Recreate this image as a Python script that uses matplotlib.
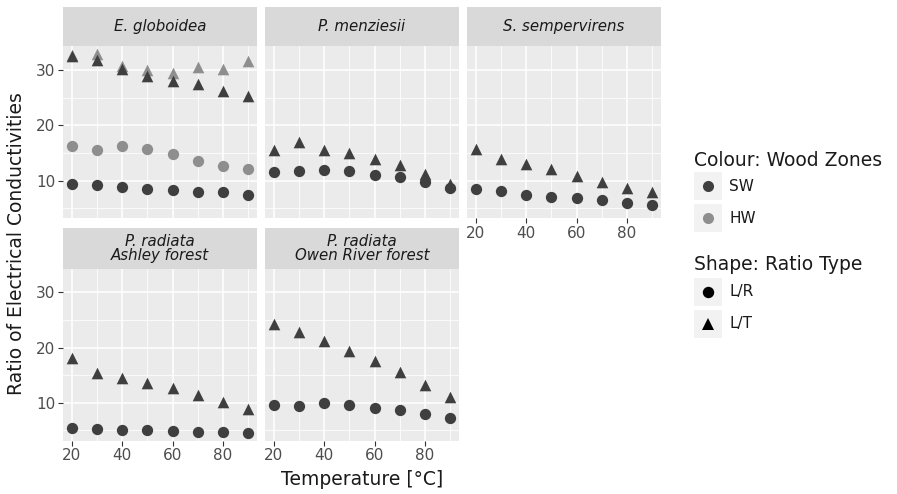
import matplotlib
matplotlib.use("Agg")
import matplotlib.pyplot as plt
from matplotlib.lines import Line2D
import numpy as np

plt.rcParams['font.family'] = ['DejaVu Sans']

temps = [20, 30, 40, 50, 60, 70, 80, 90]

species = ["E. globoidea", "P. menziesii", "S. sempervirens",
           "P. radiata\nAshley forest", "P. radiata\nOwen River forest"]

# E. globoidea
eg_sw_lr = [9.5, 9.2, 8.8, 8.5, 8.3, 8.0, 7.9, 7.5]
eg_hw_lr = [16.3, 15.6, 16.3, 15.7, 14.8, 13.5, 12.7, 12.2]
eg_sw_lt = [32.5, 31.7, 30.1, 28.9, 28.0, 27.4, 26.2, 25.2]
eg_hw_lt = [32.6, 32.8, 30.7, 30.0, 29.5, 30.5, 30.2, 31.6]
# P. menziesii
pm_sw_lr = [11.5, 11.7, 11.9, 11.7, 11.1, 10.6, 9.8, 8.7]
pm_sw_lt = [15.5, 17.0, 15.6, 15.0, 14.0, 12.9, 11.2, 9.4]
# S. sempervirens
ss_sw_lr = [8.6, 8.1, 7.5, 7.0, 6.8, 6.5, 5.9, 5.6]
ss_sw_lt = [15.8, 13.9, 13.1, 12.1, 10.9, 9.8, 8.7, 8.0]
# P. radiata Ashley forest
pa_sw_lr = [5.4, 5.2, 5.1, 5.0, 4.9, 4.8, 4.8, 4.6]
pa_sw_lt = [18.1, 15.4, 14.5, 13.5, 12.7, 11.5, 10.1, 8.9]
# P. radiata Owen River forest
po_sw_lr = [9.7, 9.5, 9.9, 9.6, 9.1, 8.7, 8.0, 7.2]
po_sw_lt = [24.2, 22.8, 21.2, 19.4, 17.6, 15.5, 13.3, 11.1]

zones = ["SW", "HW"]
ratio_types = ["L/R", "L/T"]

panel_series = [
    [("HW", "L/R", eg_hw_lr), ("HW", "L/T", eg_hw_lt),
     ("SW", "L/R", eg_sw_lr), ("SW", "L/T", eg_sw_lt)],
    [("SW", "L/R", pm_sw_lr), ("SW", "L/T", pm_sw_lt)],
    [("SW", "L/R", ss_sw_lr), ("SW", "L/T", ss_sw_lt)],
    [("SW", "L/R", pa_sw_lr), ("SW", "L/T", pa_sw_lt)],
    [("SW", "L/R", po_sw_lr), ("SW", "L/T", po_sw_lt)],
]

colors = {"SW": "#3f3f3f", "HW": "#8e8e8e"}
markers = {"L/R": "o", "L/T": "^"}
sizes = {"L/R": 66, "L/T": 70}

W, H = 897, 494
fig = plt.figure(figsize=(W / 100, H / 100), dpi=100)
fig.patch.set_facecolor("white")


def rect(x0, y0, x1, y1):
    return [x0 / W, 1 - y1 / H, (x1 - x0) / W, (y1 - y0) / H]


cols = [(63, 257), (265, 459), (467, 661)]
rows = [((7, 46.5), (46.5, 218.5)), ((228, 269), (269, 440.5))]

allv = [v for ser in panel_series for _, _, vals in ser for v in vals]
ymin, ymax = min(allv), max(allv)
yr = ymax - ymin
ylim = (ymin - 0.05 * yr, ymax + 0.05 * yr)
xr = max(temps) - min(temps)
xlim = (min(temps) - 0.05 * xr, max(temps) + 0.05 * xr)

for i, sp in enumerate(species):
    r, c = divmod(i, 3)
    (sx0, sx1) = cols[c]
    (st0, st1), (pt0, pt1) = rows[r]
    # strip
    sax = fig.add_axes(rect(sx0, st0, sx1, st1))
    sax.set_facecolor("#d9d9d9")
    for s in sax.spines.values():
        s.set_visible(False)
    sax.set_xticks([]); sax.set_yticks([])
    sax.text(0.5, 0.5, sp, ha="center", va="center", style="italic",
             fontsize=10.8, color="#1a1a1a", linespacing=0.95,
             transform=sax.transAxes)
    # panel
    ax = fig.add_axes(rect(sx0, pt0, sx1, pt1))
    ax.set_facecolor("#ebebeb")
    for s in ax.spines.values():
        s.set_visible(False)
    ax.set_xlim(*xlim)
    ax.set_ylim(*ylim)
    ax.set_xticks([20, 40, 60, 80])
    ax.set_xticks([30, 50, 70, 90], minor=True)
    ax.set_yticks([10, 20, 30])
    ax.set_yticks([5, 15, 25], minor=True)
    ax.grid(True, which="major", color="white", linewidth=1.1)
    ax.grid(True, which="minor", color="white", linewidth=0.55)
    ax.set_axisbelow(True)
    ax.tick_params(which="minor", length=0)
    ax.tick_params(which="major", length=3.5, width=0.8, color="#333333",
                   labelsize=11, labelcolor="#4d4d4d", pad=2)
    if c != 0:
        ax.tick_params(axis="y", which="major", length=0, labelleft=False)
    show_x = (r == 1) or (i == 2)
    if not show_x:
        ax.tick_params(axis="x", which="major", length=0, labelbottom=False)
    for zone, rt, vals in panel_series[i]:
        ax.scatter(temps, vals, s=sizes[rt], marker=markers[rt],
                   color=colors[zone], linewidths=0, zorder=3)

# axis titles
fig.text(362 / W, 1 - 479 / H, "Temperature [°C]", ha="center", va="center",
         fontsize=13.5, color="#1a1a1a")
fig.text(17 / W, 1 - 243.5 / H, "Ratio of Electrical Conductivities",
         ha="center", va="center", rotation=90, fontsize=13.5, color="#1a1a1a")

# legends
def legend_block(title, title_y, entries, key_tops):
    fig.text(694 / W, 1 - title_y / H, title, ha="left", va="center",
             fontsize=13.5, color="#1a1a1a")
    for (label, mk, col, ms), kt in zip(entries, key_tops):
        kax = fig.add_axes(rect(694, kt, 722, kt + 28))
        kax.set_facecolor("#f2f2f2")
        for s in kax.spines.values():
            s.set_visible(False)
        kax.set_xticks([]); kax.set_yticks([])
        kax.set_xlim(0, 1); kax.set_ylim(0, 1)
        kax.plot([0.5], [0.5], marker=mk, color=col, markersize=ms,
                 markeredgewidth=0, linestyle="none")
        fig.text(729 / W, 1 - (kt + 14) / H, label, ha="left", va="center",
                 fontsize=11, color="#1a1a1a")


legend_block("Colour: Wood Zones", 160,
             [(z, "o", colors[z], 8) for z in zones], [172.5, 204.5])
legend_block("Shape: Ratio Type", 265,
             [(rt, markers[rt], "black", 8.2) for rt in ratio_types], [277.5, 309.5])

fig.savefig("out.png", dpi=100, facecolor="white")
